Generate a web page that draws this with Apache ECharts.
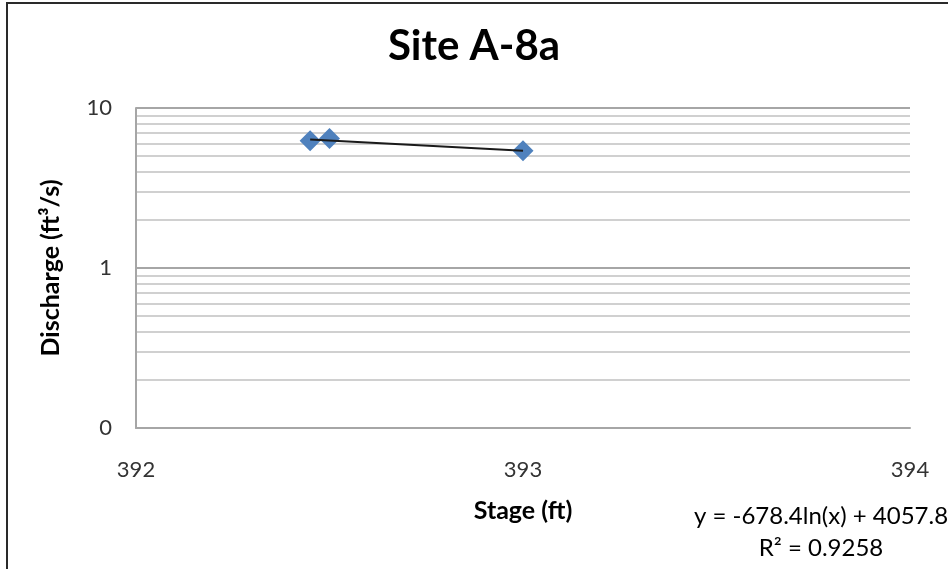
<!DOCTYPE html>
<html>
<head>
<meta charset="utf-8">
<script src="https://cdn.jsdelivr.net/npm/echarts@6/dist/echarts.min.js"></script>
<style>
html,body{margin:0;padding:0;background:#fff;}
#chart{width:948px;height:569px;}
</style>
</head>
<body>
<div id="chart"></div>
<script>
// Observed data (Stage ft, Discharge ft3/s)
var stage = [392.45, 392.5, 393.0];
var discharge = [6.25, 6.45, 5.4];
// Trendline endpoints
var trendStage = [392.45, 393.0];
var trendDischarge = [6.35, 5.4];
// Axis ticks
var xTicks = [392, 393, 394];
var yMajor = [0.1, 1, 10];
var yMinor = [0.2, 0.3, 0.4, 0.5, 0.6, 0.7, 0.8, 0.9, 2, 3, 4, 5, 6, 7, 8, 9];
var titleText = 'Site A-8a';
var eqText = 'y = -678.4ln(x) + 4057.8';
var r2Text = 'R² = 0.9258';

var chart = echarts.init(document.getElementById('chart'));
var font = 'Lato, "Open Sans", sans-serif';
var pts = stage.map(function (s, i) { return [s, discharge[i]]; });
var trend = trendStage.map(function (s, i) { return [s, trendDischarge[i]]; });

chart.setOption({
  animation: false,
  backgroundColor: '#fff',
  title: {
    text: titleText, left: 'center', top: 20,
    textStyle: { fontFamily: font, fontWeight: 'bold', fontSize: 42, color: '#000' }
  },
  grid: { left: 136, right: 38, top: 108, bottom: 141 },
  xAxis: {
    type: 'value', min: xTicks[0], max: xTicks[xTicks.length - 1], interval: 1,
    name: 'Stage (ft)', nameLocation: 'middle', nameGap: 70,
    nameTextStyle: { fontFamily: font, fontWeight: 'bold', fontSize: 25, color: '#000' },
    axisLine: { show: true, lineStyle: { color: '#a6a6a6', width: 2 } },
    axisTick: { show: false },
    splitLine: { show: false },
    axisLabel: { margin: 31, fontFamily: font, fontSize: 22, color: '#333' }
  },
  yAxis: {
    type: 'log', logBase: 10, min: yMajor[0], max: yMajor[yMajor.length - 1],
    name: 'Discharge (ft³/s)', nameLocation: 'middle', nameGap: 73, nameRotate: 90,
    nameTextStyle: { fontFamily: font, fontWeight: 'bold', fontSize: 25, color: '#000' },
    axisLine: { show: true, lineStyle: { color: '#a6a6a6', width: 2 } },
    axisTick: { show: false },
    splitLine: { show: true, lineStyle: { color: '#a6a6a6', width: 2 } },
    axisLabel: {
      margin: 24, fontFamily: font, fontSize: 22, color: '#333',
      formatter: function (v) { return v < 1 ? '0' : String(Math.round(v)); }
    }
  },
  series: [
    {
      type: 'line', data: [], silent: true, z: 0,
      markLine: {
        silent: true, symbol: 'none', label: { show: false }, z: 0,
        lineStyle: { color: '#d0d0d0', width: 2, type: 'solid' },
        emphasis: { disabled: true },
        data: yMinor.map(function (v) { return { yAxis: v }; })
      }
    },
    {
      type: 'scatter', data: pts, symbol: 'diamond', symbolSize: 21,
      itemStyle: { color: '#4f81bd', opacity: 1 }, z: 5
    },
    {
      type: 'line', data: trend, showSymbol: false, symbol: 'none',
      lineStyle: { color: '#1a1a1a', width: 2 }, z: 6
    }
  ],
  graphic: [
    { type: 'rect', shape: { x: 7, y: 3, width: 1000, height: 700 },
      style: { fill: null, stroke: '#2a2a2a', lineWidth: 2 }, silent: true },
    { type: 'text', x: 821, y: 516,
      style: { text: eqText, fontFamily: font, fontSize: 24, fill: '#000', textAlign: 'center', textVerticalAlign: 'middle' } },
    { type: 'text', x: 821, y: 548,
      style: { text: r2Text, fontFamily: font, fontSize: 24, fill: '#000', textAlign: 'center', textVerticalAlign: 'middle' } }
  ]
});
</script>
</body>
</html>
